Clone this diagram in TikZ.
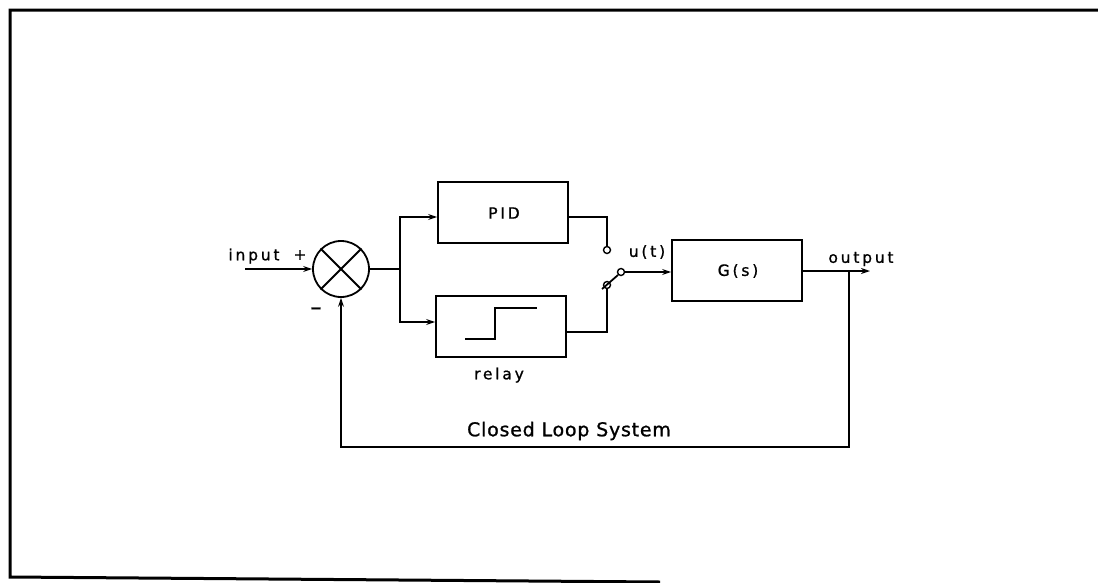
\documentclass[tikz,border=0pt]{standalone}
\usepackage{fontspec}
\setmainfont{DejaVu Sans}
\usetikzlibrary{arrows.meta,calc}
\tikzset{
  wire/.style={line width=1.8pt},
  arr/.style={wire,-{Stealth[length=9pt,width=6pt]}},
  blk/.style={draw,line width=1.8pt,rectangle,minimum width=130pt,minimum height=61pt,inner sep=0pt},
  lbl/.style={font=\fontsize{15.5}{18}\selectfont\addfontfeature{LetterSpace=18,FakeBold=1},inner sep=0pt},
  biglbl/.style={font=\fontsize{19}{22}\selectfont\addfontfeature{LetterSpace=4,FakeBold=1},inner sep=0pt},
  contact/.style={draw,circle,line width=1.4pt,minimum size=7pt,inner sep=0pt,fill=white},
  framel/.style={line width=3pt}
}
\begin{document}
\begin{tikzpicture}[x=1pt,y=-1pt]
\useasboundingbox[fill=white] (0,0) rectangle (1098,582);
% frame
\draw[framel] (1098,10) -- (10,10) -- (10,577) -- (660,582);
% summing junction
\node[draw,circle,line width=1.8pt,minimum size=56pt,inner sep=0pt] (sum) at (341,269) {};
\draw[wire] (sum.north west) -- (sum.south east);
\draw[wire] (sum.north east) -- (sum.south west);
\coordinate (in) at (245,269);
\coordinate (j) at (400,269);
% blocks
\node[blk] (pid) at (503,212.5) {};
\node[lbl] (pidt) at (504,213) {PID};
\node[blk] (relay) at (501,326.5) {};
\node[lbl] (relayt) at (499,375) {relay};
\node[blk] (g) at (737,270.5) {};
\node[lbl] (gt) at (738,271) {G(s)};
% relay characteristic
\draw[wire] (465,339) -- (495,339) -- (495,308) -- (537,308);
% switch contacts
\node[contact] (c1) at (607,250) {};
\node[contact] (c2) at (607,285) {};
\node[contact] (c3) at (621,272) {};
\coordinate (bl) at (602,289);
% labels
\node[lbl] (inl) at (254,256) {input};
\node[lbl] (plus) at (300,255) {+};
\node[lbl,font=\fontsize{22}{24}\selectfont\addfontfeature{FakeBold=1}] (minus) at (316,311) {–};
\node[lbl] (ut) at (647,252) {u(t)};
\node[lbl] (outl) at (861,259) {output};
\node[biglbl] (cls) at (569,431) {Closed Loop System};
% connections
\draw[arr] (in) -- (sum.west);
\draw[wire] (sum.east) -- (j);
\draw[arr] (j) |- ([yshift=-4.5pt]pid.west);
\draw[arr] (j) |- ([yshift=4.5pt]relay.west);
\draw[wire] ([yshift=-4.5pt]pid.east) -| (c1.north);
\draw[wire] ([yshift=-5.5pt]relay.east) -| (c2.south);
\draw[wire] (bl) -- (c3.south west);
\draw[arr] (c3.east) -- (c3 -| g.west);
\coordinate (fb) at (849,271);
\coordinate (out) at (870,271);
\coordinate (fbl) at (849,447);
\draw[arr] (g.east |- fb) -- (out);
\draw[arr] (fb) -- (fbl) -| (sum.south);
\end{tikzpicture}
\end{document}
